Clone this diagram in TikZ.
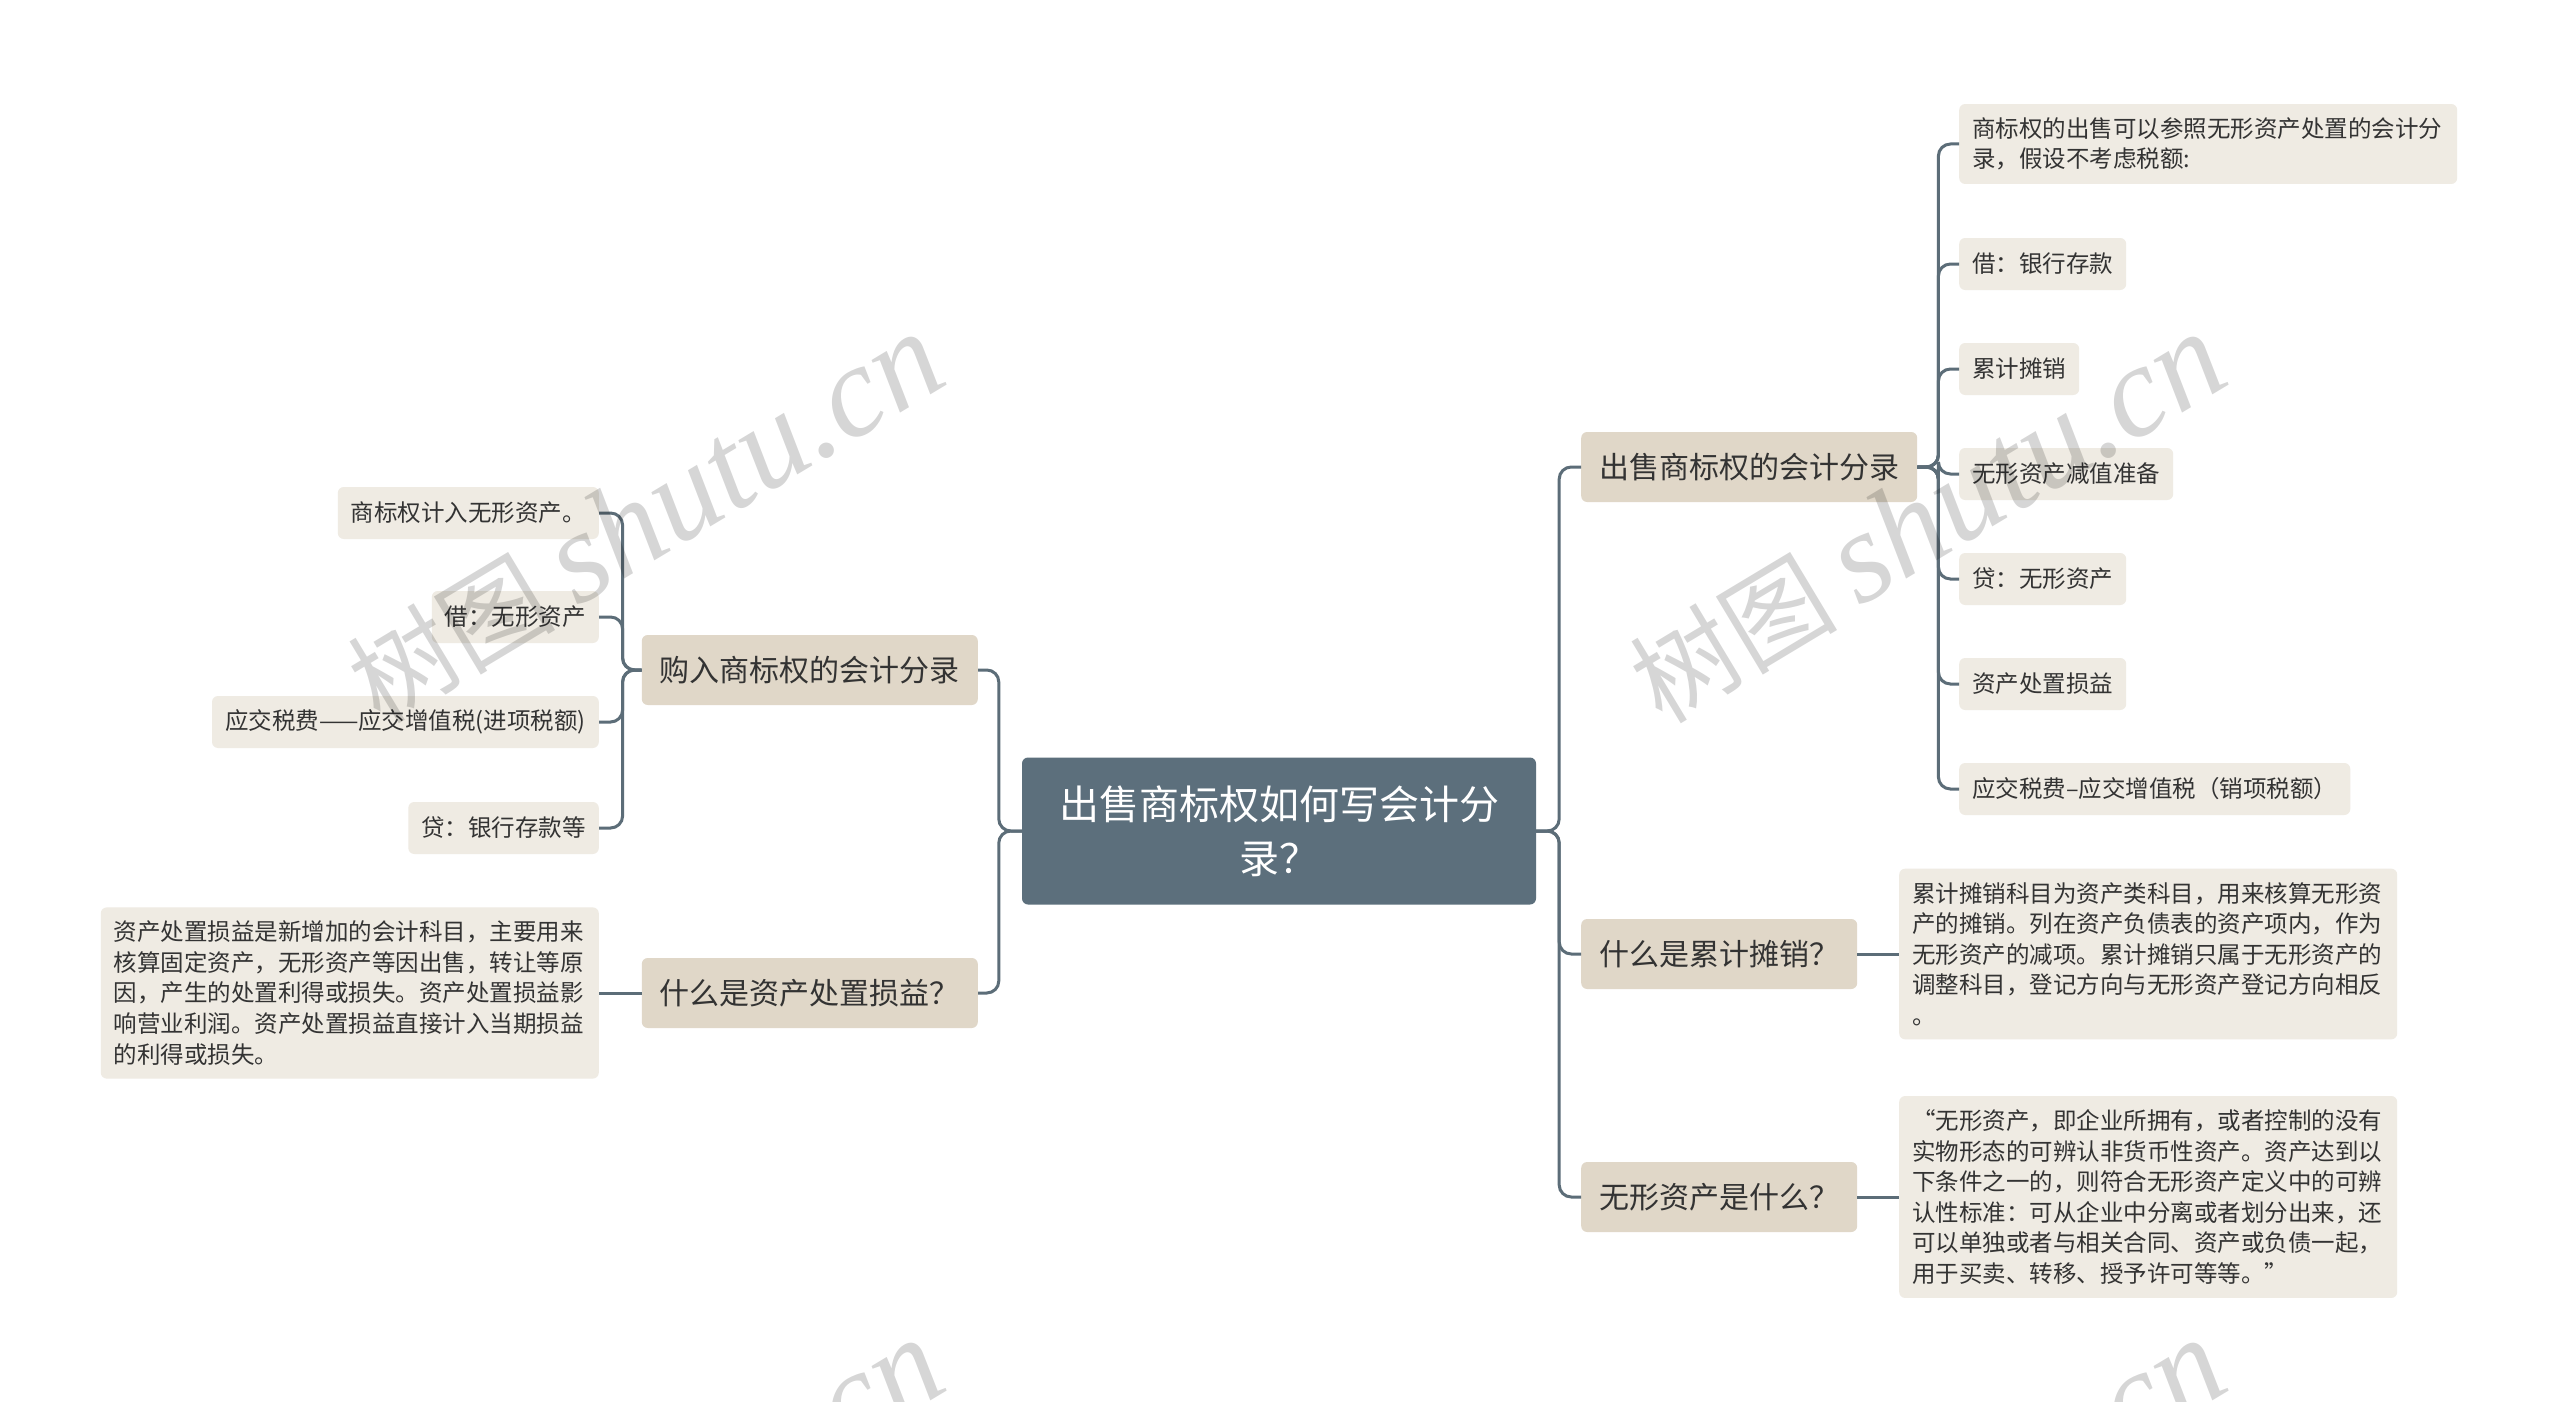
\documentclass[tikz,border=0pt]{standalone}
\usepackage{fontspec}
\setmainfont{Noto Sans CJK SC}
\newfontfamily\wmlatin{Liberation Serif}
\definecolor{rootblue}{HTML}{5C6F7C}
\definecolor{linegray}{HTML}{5C6D78}
\definecolor{branchbeige}{HTML}{E0D7C8}
\definecolor{leafbeige}{HTML}{EFEBE3}
\definecolor{textgray}{HTML}{333333}

\begin{document}
\begin{tikzpicture}[x=1pt,y=-1pt,
  racine/.style={fill=rootblue,rounded corners=6pt,text=white,align=center,text width=440pt,inner xsep=37pt,minimum height=147pt,font=\fontsize{40}{54}\selectfont},
  branche/.style={fill=branchbeige,rounded corners=6pt,text=textgray,inner xsep=18pt,minimum height=70pt,font=\fontsize{30}{36}\selectfont},
  feuille/.style={fill=leafbeige,rounded corners=6pt,text=textgray,inner xsep=13pt,minimum height=52pt,font=\fontsize{23.5}{30.6}\selectfont},
  para/.style={feuille,align=left,text width=472pt,inner ysep=13.5pt},
  lien/.style={draw=linegray,line width=3pt,rounded corners=12pt},
  filigrane/.style={rotate=31,text=black,text opacity=0.16}]
          %fond et cadre
          \path[use as bounding box,fill=white] (0,0) rectangle (2560,1402);
          %RACINE
          \node[racine] (R) at (1279,831) {出售商标权如何写会计分\\录？};
          %GAUCHE
          \node[branche,anchor=east] (A) at (978,670) {购入商标权的会计分录};
          \node[branche,anchor=east] (B) at (978,993) {什么是资产处置损益？};
          \node[feuille,anchor=east] (A1) at (599,513) {商标权计入无形资产。};
          \node[feuille,anchor=east] (A2) at (599,617) {借：无形资产};
          \node[feuille,anchor=east] (A3) at (599,722) {应交税费——应交增值税(进项税额)};
          \node[feuille,anchor=east] (A4) at (599,828) {贷：银行存款等};
          \node[para,anchor=east] (B1) at (599,993) {资产处置损益是新增加的会计科目，主要用来\\核算固定资产，无形资产等因出售，转让等原\\因，产生的处置利得或损失。资产处置损益影\\响营业利润。资产处置损益直接计入当期损益\\的利得或损失。};
          %DROITE
          \node[branche,anchor=west] (C) at (1581,467) {出售商标权的会计分录};
          \node[branche,anchor=west] (D) at (1581,954) {什么是累计摊销？};
          \node[branche,anchor=west] (E) at (1581,1197) {无形资产是什么？};
          \node[para,anchor=west] (C1) at (1959,144) {商标权的出售可以参照无形资产处置的会计分\\录，假设不考虑税额:};
          \node[feuille,anchor=west] (C2) at (1959,264) {借：银行存款};
          \node[feuille,anchor=west] (C3) at (1959,369) {累计摊销};
          \node[feuille,anchor=west] (C4) at (1959,474) {无形资产减值准备};
          \node[feuille,anchor=west] (C5) at (1959,579) {贷：无形资产};
          \node[feuille,anchor=west] (C6) at (1959,684) {资产处置损益};
          \node[feuille,anchor=west] (C7) at (1959,789) {应交税费–应交增值税（销项税额）};
          \node[para,anchor=west] (D1) at (1899,954) {累计摊销科目为资产类科目，用来核算无形资\\产的摊销。列在资产负债表的资产项内，作为\\无形资产的减项。累计摊销只属于无形资产的\\调整科目，登记方向与无形资产登记方向相反\\。};
          \node[para,anchor=west] (E1) at (1899,1197) {“无形资产，即企业所拥有，或者控制的没有\\实物形态的可辨认非货币性资产。资产达到以\\下条件之一的，则符合无形资产定义中的可辨\\认性标准：可从企业中分离或者划分出来，还\\可以单独或者与相关合同、资产或负债一起，\\用于买卖、转移、授予许可等等。”};
          %liens
          \foreach \n in {A,B} \draw[lien] (R.west) -- ++(-23,0) |- (\n.east);
          \foreach \n in {C,D,E} \draw[lien] (R.east) -- ++(23,0) |- (\n.west);
          \foreach \n in {A1,A2,A3,A4} \draw[lien] (A.west) -- ++(-19,0) |- (\n.east);
          \foreach \n in {C1,C2,C3,C4,C5,C6,C7} \draw[lien] (C.east) -- ++(21,0) |- (\n.west);
          \draw[lien] (B.west) -- (B1.east);
          \draw[lien] (D.east) -- (D1.west);
          \draw[lien] (E.east) -- (E1.west);
          %filigrane
          \begin{scope}
            \clip (0,0) rectangle (2560,1402);
            \foreach \x/\y [count=\i] in {645/519,1927/519,645/1525,1927/1525}
              \node[filigrane] (W\i) at (\x,\y) {{\fontsize{104}{104}\selectfont 树图}\hspace{22pt}{\wmlatin\itshape\fontsize{130}{130}\selectfont shutu.cn}};
          \end{scope}
\end{tikzpicture}
\end{document}
